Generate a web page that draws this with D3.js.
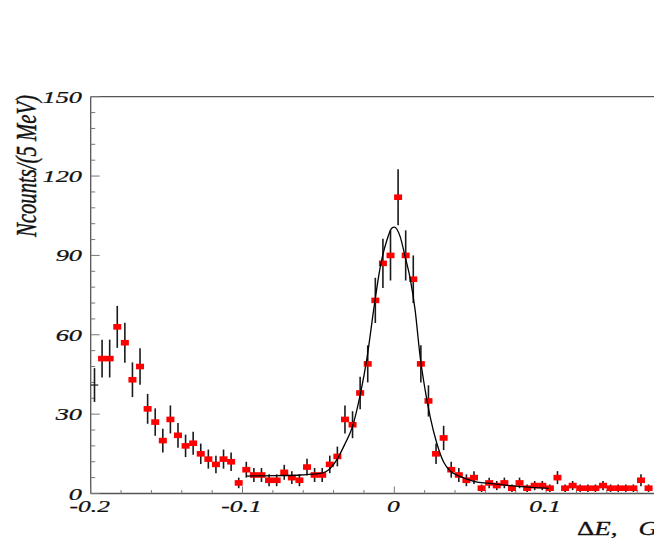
<!DOCTYPE html>
<html><head><meta charset="utf-8">
<script src="https://cdn.jsdelivr.net/npm/d3@7"></script>
<style>body{margin:0;background:#fff;overflow:hidden}svg{display:block}</style>
</head><body>
<script>
// Histogram: bins of 5 MeV starting at -0.2 GeV
const binStart = -0.2;
const binWidth = 0.005;
const counts = [41,51,51,63,57,43,48,32,27,20,28,22,18,19,15,13,11,13,12,4,
  9,7,7,5,5,8,6,5,10,7,7,11,14,28,26,38,49,73,87,90,
  112,90,81,49,35,15,21,9,7,5,6,2,4,3,4,2,4,2,3,3,
  2,6,2,3,2,2,2,3,2,2,2,2,5,2];
// fit curve
const fitX = [-0.0973,-0.085,-0.072,-0.062,-0.0488,-0.0422,-0.0378,-0.0323,-0.0279,-0.0224,-0.018,-0.0136,-0.0092,-0.0048,-0.0017,0.0,0.0038,0.0071,0.0104,0.0137,0.017,0.0203,0.0236,0.028,0.0324,0.0368,0.041,0.0465,0.0531,0.0618,0.0729,0.0839,0.0994,0.1017];
const fitY = [6.6,6.7,6.8,7.0,7.6,9.5,12.8,19.0,24.7,37.5,51.2,69.4,85.8,95.9,100.3,100.7,97.2,89.6,81.4,69.4,51.8,39.2,29.1,19.0,12.0,8.5,7.0,5.7,4.5,3.9,3.2,2.6,2.0,1.95];
const xTickLabels = ["-0.2","-0.1","0","0.1"];
const yTickLabels = ["0","30","60","90","120","150"];
const xTitleGreek = "\u0394";
const xTitle = "E,";
const xTitleUnit = "GeV";
const yTitle = "Ncounts/(5 MeV)";

const W = 654, H = 545;
const svg = d3.select("body").append("svg").attr("width", W).attr("height", H);
const x = d3.scaleLinear().domain([-0.2, 0.2]).range([90.7, 697.9]);
const y = d3.scaleLinear().domain([0, 150]).range([493.5, 96.7]);

const axisCol = "#555";
// frame: left, bottom, top, right
svg.append("line").attr("x1", x(-0.2)).attr("x2", x(-0.2)).attr("y1", y(0)).attr("y2", y(150)).attr("stroke", axisCol).attr("stroke-width", 1.3);
svg.append("line").attr("x1", x(-0.2)).attr("x2", x(0.2)).attr("y1", y(0)).attr("y2", y(0)).attr("stroke", axisCol).attr("stroke-width", 1.3);
svg.append("line").attr("x1", x(-0.2)).attr("x2", x(0.2)).attr("y1", y(150)).attr("y2", y(150)).attr("stroke", axisCol).attr("stroke-width", 1.3);
svg.append("line").attr("x1", x(0.2)).attr("x2", x(0.2)).attr("y1", y(0)).attr("y2", y(150)).attr("stroke", axisCol).attr("stroke-width", 1.3);

// ticks
const xt = d3.range(0, 21).map(i => -0.2 + i * 0.02);
svg.append("g").selectAll("line").data(xt).join("line")
  .attr("x1", d => x(d)).attr("x2", d => x(d))
  .attr("y1", y(0)).attr("y2", (d, i) => y(0) - (i % 5 === 0 ? 7 : 3.5))
  .attr("stroke", "#777").attr("stroke-width", 1);
const yt = d3.range(0, 26).map(i => i * 6);
svg.append("g").selectAll("line").data(yt).join("line")
  .attr("y1", d => y(d)).attr("y2", d => y(d))
  .attr("x1", x(-0.2)).attr("x2", (d, i) => x(-0.2) + (i % 5 === 0 ? 9 : 4.5))
  .attr("stroke", "#777").attr("stroke-width", 1);

const font = "'Liberation Serif','Times New Roman',serif";
// y tick labels
svg.append("g").selectAll("text").data(yTickLabels).join("text")
  .attr("transform", d => `translate(82,${y(+d) + 6}) scale(1.55,1)`)
  .attr("text-anchor", "end").attr("font-family", font).attr("font-style", "italic")
  .attr("font-size", 17).attr("fill", "#111").attr("stroke", "#111").attr("stroke-width", 0.25).text(d => d);
// x tick labels
svg.append("g").selectAll("text").data(xTickLabels).join("text")
  .attr("transform", d => `translate(${x(+d) - 1},512) scale(1.5,1)`)
  .attr("text-anchor", "middle").attr("font-family", font).attr("font-style", "italic")
  .attr("font-size", 17).attr("fill", "#111").attr("stroke", "#111").attr("stroke-width", 0.25).text(d => d);

// x title
const xtt = svg.append("text").attr("transform", "translate(577,535) scale(1.5,1)")
  .attr("font-family", font).attr("font-style", "italic").attr("font-size", 18)
  .attr("fill", "#111").attr("stroke", "#111").attr("stroke-width", 0.3);
xtt.append("tspan").attr("font-style", "normal").text(xTitleGreek);
xtt.append("tspan").text(xTitle);
xtt.append("tspan").attr("dx", 14).text(xTitleUnit);

// y title
svg.append("text").attr("transform", "translate(36,166) rotate(-90)")
  .attr("text-anchor", "middle").attr("font-family", font).attr("font-style", "italic")
  .attr("font-size", 29).attr("textLength", 142).attr("lengthAdjust", "spacingAndGlyphs")
  .attr("fill", "#111").attr("stroke", "#111").attr("stroke-width", 0.45).text(yTitle);

// data
const bins = counts.map((c, i) => ({c, xc: binStart + binWidth * (i + 0.5), i}));
const g = svg.append("g");
g.selectAll("line.err").data(bins).join("line").attr("class", "err")
  .attr("x1", d => x(d.xc)).attr("x2", d => x(d.xc))
  .attr("y1", d => y(d.c - Math.sqrt(d.c))).attr("y2", d => y(d.c + Math.sqrt(d.c)))
  .attr("stroke", "#1a1a1a").attr("stroke-width", 1.6);
// first bin: horizontal error bar only
g.append("line").attr("x1", x(binStart)).attr("x2", x(binStart + binWidth))
  .attr("y1", y(bins[0].c)).attr("y2", y(bins[0].c)).attr("stroke", "#1a1a1a").attr("stroke-width", 1.2);
g.selectAll("rect").data(bins.slice(1)).join("rect")
  .attr("x", d => x(d.xc) - 4).attr("y", d => y(d.c) - 2.8)
  .attr("width", 8).attr("height", 5.6).attr("fill", "#ff0000");

// fit
const line = d3.line().x(d => x(d[0])).y(d => y(d[1])).curve(d3.curveMonotoneX);
svg.append("path").datum(fitX.map((v, i) => [v, fitY[i]])).attr("d", line)
  .attr("fill", "none").attr("stroke", "#000").attr("stroke-width", 1.3);
</script>
</body></html>
